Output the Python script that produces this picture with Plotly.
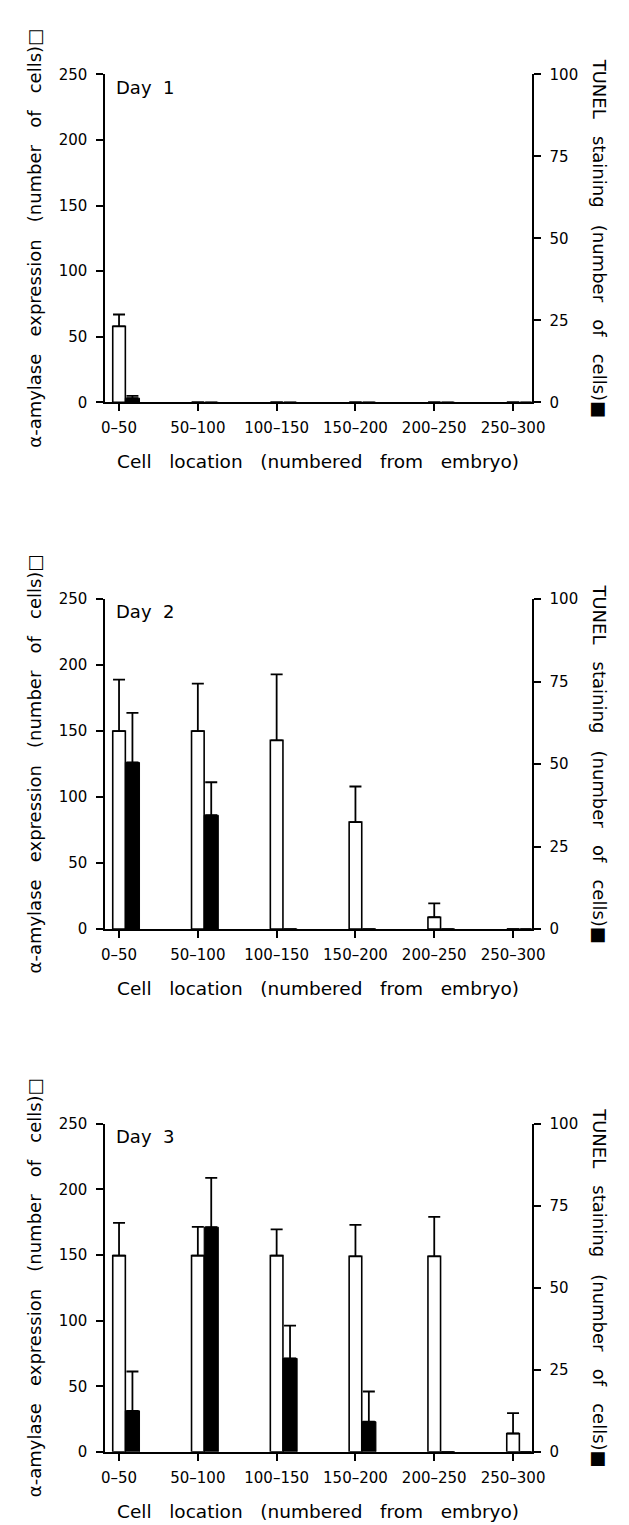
import plotly.graph_objects as go

W, H = 629, 1525

categories = ["0–50", "50–100", "100–150", "150–200", "200–250", "250–300"]
days = ["Day 1", "Day 2", "Day 3"]

# alpha-amylase expression (left axis, open bars): mean and upper error
day1_amylase = [58, 0, 0, 0, 0, 0]
day1_amylase_err = [9, 0, 0, 0, 0, 0]
day2_amylase = [150, 150, 143, 81, 9, 0]
day2_amylase_err = [39, 36, 50, 27, 10.5, 0]
day3_amylase = [149.5, 149.5, 149.5, 149, 149, 14]
day3_amylase_err = [25, 22, 20, 24, 30, 15.5]

# TUNEL staining (right axis, filled bars): mean and upper error
day1_tunel = [1.3, 0, 0, 0, 0, 0]
day1_tunel_err = [0.7, 0, 0, 0, 0, 0]
day2_tunel = [50.5, 34.5, 0, 0, 0, 0]
day2_tunel_err = [15, 10, 0, 0, 0, 0]
day3_tunel = [12.5, 68.5, 28.5, 9.2, 0, 0]
day3_tunel_err = [12, 15, 10, 9.2, 0, 0]

amylase = [day1_amylase, day2_amylase, day3_amylase]
amylase_err = [day1_amylase_err, day2_amylase_err, day3_amylase_err]
tunel = [day1_tunel, day2_tunel, day3_tunel]
tunel_err = [day1_tunel_err, day2_tunel_err, day3_tunel_err]

FONT = "DejaVu Sans"
NB = "\u00a0"
GAP = NB * 3
left_title = GAP.join(["α-amylase", "expression", "(number", "of", "cells)□"])
right_title = GAP.join(["TUNEL", "staining", "(number", "of", "cells)■"])
x_title = GAP.join(["Cell", "location", "(numbered", "from", "embryo)"])

tops = [58, 589, 1120]
bottoms = [390, 923, 1452]
x0_px, x1_px = 96, 534


def fy(p):
    return 1 - p / H


fig = go.Figure()
layout = dict(
    width=W, height=H,
    margin=dict(l=0, r=0, t=0, b=0),
    paper_bgcolor="white", plot_bgcolor="white",
    showlegend=False,
    font=dict(family=FONT, color="black", size=15),
    annotations=[],
)

for i in range(3):
    xa = "x" if i == 0 else f"x{i + 1}"
    yl = f"y{2 * i + 1}" if i > 0 else "y"
    yr = f"y{2 * i + 2}"
    xkey = "xaxis" if i == 0 else f"xaxis{i + 1}"
    ylkey = "yaxis" if i == 0 else f"yaxis{2 * i + 1}"
    yrkey = f"yaxis{2 * i + 2}"

    fig.add_trace(go.Bar(
        x=categories, y=amylase[i], xaxis=xa, yaxis=yl,
        width=0.16, offset=-0.08,
        marker=dict(color="white", line=dict(color="black", width=1.6)),
        error_y=dict(type="data", symmetric=False, array=amylase_err[i],
                     arrayminus=[0] * 6, color="black", thickness=1.8, width=6),
        name="α-amylase",
    ))
    fig.add_trace(go.Bar(
        x=categories, y=tunel[i], xaxis=xa, yaxis=yr,
        width=0.18, offset=0.08,
        marker=dict(color="black", line=dict(color="black", width=1)),
        error_y=dict(type="data", symmetric=False, array=tunel_err[i],
                     arrayminus=[0] * 6, color="black", thickness=1.8, width=6),
        name="TUNEL",
    ))

    dom_y = [fy(bottoms[i]), fy(tops[i])]
    layout[xkey] = dict(
        domain=[x0_px / W, x1_px / W], anchor=yl,
        type="category", range=[-0.173, 5.235],
        showline=True, linecolor="black", linewidth=2,
        ticks="outside", ticklen=7, tickwidth=2, tickcolor="black",
        showgrid=False, zeroline=False, fixedrange=True,
        tickfont=dict(family=FONT, size=15, color="black"),
        ticklabelstandoff=4,
    )
    layout[ylkey] = dict(
        domain=dom_y, anchor=xa, range=[0, 250], tickvals=[0, 50, 100, 150, 200, 250],
        showline=True, linecolor="black", linewidth=2,
        ticks="outside", ticklen=7, tickwidth=2, tickcolor="black",
        showgrid=False, zeroline=False,
        tickfont=dict(family=FONT, size=15, color="black"),
        ticklabelstandoff=6,
    )
    layout[yrkey] = dict(
        domain=dom_y, anchor=xa, overlaying=yl, side="right",
        range=[0, 100], tickvals=[0, 25, 50, 75, 100],
        showline=True, linecolor="black", linewidth=2,
        ticks="outside", ticklen=7, tickwidth=2, tickcolor="black",
        showgrid=False, zeroline=False,
        tickfont=dict(family=FONT, size=15, color="black"),
        ticklabelstandoff=6,
    )

    cy = (tops[i] + bottoms[i]) / 2
    layout["annotations"] += [
        dict(text=days[i].replace(" ", NB * 2), xref="paper", yref="paper",
             x=105 / W, y=fy(tops[i] + 13), xanchor="left", yanchor="middle",
             showarrow=False, font=dict(family=FONT, size=18, color="black")),
        dict(text=x_title, xref="paper", yref="paper",
             x=315 / W, y=fy(bottoms[i] + 60), xanchor="center", yanchor="middle",
             showarrow=False, font=dict(family=FONT, size=18.5, color="black")),
        dict(text=left_title, xref="paper", yref="paper", textangle=-90,
             x=23 / W, y=fy(cy), xanchor="center", yanchor="middle",
             showarrow=False, font=dict(family=FONT, size=18, color="black")),
        dict(text=right_title, xref="paper", yref="paper", textangle=90,
             x=604 / W, y=fy(cy), xanchor="center", yanchor="middle",
             showarrow=False, font=dict(family=FONT, size=18, color="black")),
    ]

fig.update_layout(**layout)
fig.write_html("out.html")
